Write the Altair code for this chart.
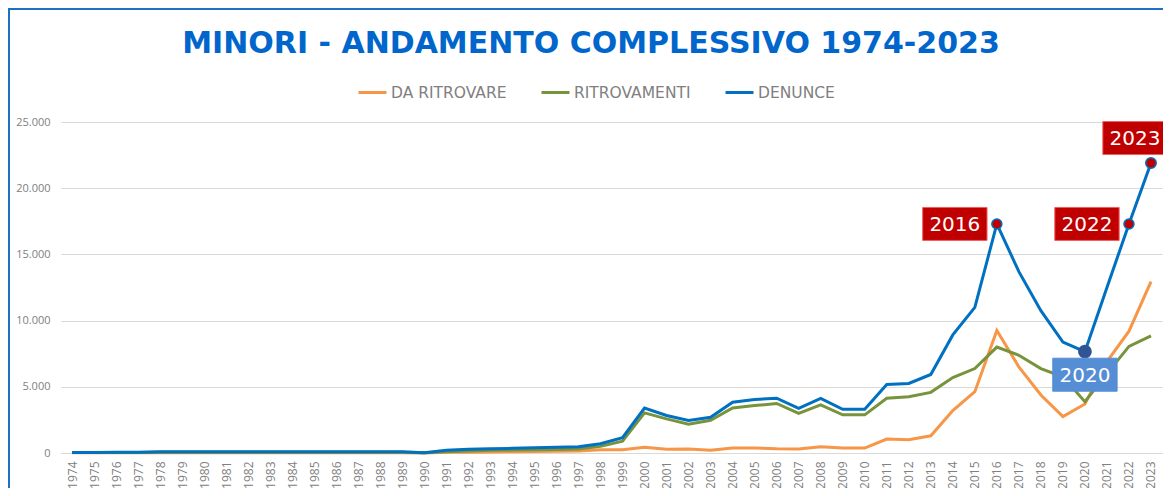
import altair as alt
import pandas as pd

# ---------------- data ----------------
YEARS = list(range(1974, 2024))

DA_RITROVARE = [10, 10, 10, 10, 15, 15, 15, 15, 15, 15, 15, 15, 15, 15, 15, 15, 5,
                50, 60, 80, 100, 120, 130, 150, 250, 250,
                430, 280, 300, 200, 380, 380, 320, 300, 480, 370,
                370, 1050, 1000, 1300, 3200, 4630, 9250, 6500, 4380, 2750,
                3700, 6900, 9200, 12950]

RITROVAMENTI = [30, 30, 35, 40, 50, 55, 55, 55, 55, 55, 55, 55, 55, 55, 60, 55, 10,
                100, 150, 200, 220, 250, 270, 300, 500, 900,
                3030, 2580, 2170, 2470, 3400, 3580, 3740, 3000, 3630, 2880,
                2880, 4130, 4250, 4580, 5700, 6380, 8000, 7380, 6380, 5750,
                3880, 6000, 8050, 8850]

DENUNCE = [40, 45, 50, 60, 90, 95, 95, 95, 95, 95, 95, 95, 95, 95, 100, 90, 20,
           200, 280, 330, 350, 400, 430, 480, 700, 1160,
           3400, 2830, 2450, 2700, 3840, 4040, 4140, 3380, 4120, 3300,
           3300, 5180, 5250, 5930, 8920, 11000, 17300, 13700, 10750, 8380,
           7650, 12500, 17300, 21900]

SERIES = ["DA RITROVARE", "RITROVAMENTI", "DENUNCE"]
COLORS = ["#F79646", "#77933C", "#0070C0"]
TITLE = ["MINORI - ANDAMENTO COMPLESSIVO 1974-2023"]
Y_TICKS = [0, 5000, 10000, 15000, 20000, 25000]

df = pd.DataFrame({
    "Anno": YEARS,
    "DA RITROVARE": DA_RITROVARE,
    "RITROVAMENTI": RITROVAMENTI,
    "DENUNCE": DENUNCE,
})

W, H = 1101, 331
GRAY = "#808080"
BOX = "M-1.95,-1H1.95V1H-1.95Z"

x_enc = alt.X(
    "Anno:O",
    title=None,
    axis=alt.Axis(
        labelAngle=270, grid=False, ticks=False, domain=True,
        domainColor="#D9D9D9", labelPadding=8, labelFont="Open Sans",
        labelFontSize=12, labelColor=GRAY,
    ),
)

lines = (
    alt.Chart(df)
    .transform_fold(SERIES, as_=["Serie", "Valore"])
    .mark_line(strokeWidth=3)
    .encode(
        x=x_enc,
        y=alt.Y(
            "Valore:Q",
            title=None,
            scale=alt.Scale(domain=[0, 25000], nice=False),
            axis=alt.Axis(
                values=Y_TICKS, grid=True, gridColor="#D9D9D9", domain=False,
                ticks=False, labelPadding=11, labelFont="Open Sans",
                labelFontSize=11, labelColor=GRAY,
                labelExpr="replace(format(datum.value, ','), ',', '.')",
            ),
        ),
        color=alt.Color(
            "Serie:N",
            sort=SERIES,
            scale=alt.Scale(domain=SERIES, range=COLORS),
            legend=alt.Legend(
                title=None, orient="none", legendX=296, legendY=-45,
                direction="horizontal", columns=3, symbolType="stroke",
                symbolStrokeWidth=3, symbolSize=784, labelFont="DejaVu Sans",
                labelFontSize=15.5, labelColor=GRAY, labelOffset=3,
                columnPadding=28, padding=0,
            ),
        ),
        order=alt.Order("Anno:O"),
    )
)


def pick(year):
    return alt.Chart(df).transform_filter(alt.datum.Anno == year)


def annot(year, fill, dx, dy, marker_fill, marker_stroke, marker_size):
    src = pick(year)
    enc = dict(x=alt.X("Anno:O"), y=alt.Y("DENUNCE:Q"))
    marker = src.mark_point(
        filled=True, size=marker_size, fill=marker_fill, opacity=1,
        stroke=marker_stroke, strokeWidth=1.5,
    ).encode(**enc)
    box = src.mark_point(
        shape=BOX, size=1089, filled=True, fill=fill, opacity=1,
        stroke="#F06060" if fill == "#C00000" else fill, strokeWidth=1,
        xOffset=dx, yOffset=dy,
    ).encode(**enc)
    txt = src.mark_text(
        font="DejaVu Sans", fontSize=20, color="white", align="center",
        baseline="middle", xOffset=dx, yOffset=dy + 1,
    ).encode(text=alt.Text("Anno:N"), **enc)
    return [marker, box, txt]


ann = []
ann += annot(2016, "#C00000", -42, 0, "#C00000", "#0070C0", 100)
ann += annot(2022, "#C00000", -42, 0, "#C00000", "#0070C0", 100)
ann += annot(2023, "#C00000", -16, -25, "#C00000", "#0070C0", 110)
ann += annot(2020, "#558ED5", 0, 23, "#2F5597", "#2F5597", 150)

title = (
    alt.Chart(pd.DataFrame({"t": TITLE}))
    .mark_text(font="DejaVu Sans", fontSize=30, fontWeight="bold",
               color="#0066CC", align="center", baseline="alphabetic")
    .encode(text="t:N", x=alt.value(530), y=alt.value(-69))
)

one = pd.DataFrame({"k": [0]})
border_top = alt.Chart(one).mark_rule(color="#1F6FC5", strokeWidth=2).encode(
    x=alt.value(-53), x2=alt.value(W + 2), y=alt.value(-113)
)
border_left = alt.Chart(one).mark_rule(color="#1F6FC5", strokeWidth=2).encode(
    x=alt.value(-52), y=alt.value(-114), y2=alt.value(H + 40)
)

chart = (
    alt.layer(lines, *ann, title, border_top, border_left)
    .properties(
        width=W, height=H,
        autosize=alt.AutoSizeParams(type="none"),
        padding={"left": 53, "top": 114, "right": 1, "bottom": 35},
        background="white",
    )
    .configure_view(stroke=None)
)

chart.save("out.html", embed_options={"renderer": "svg", "actions": False})
